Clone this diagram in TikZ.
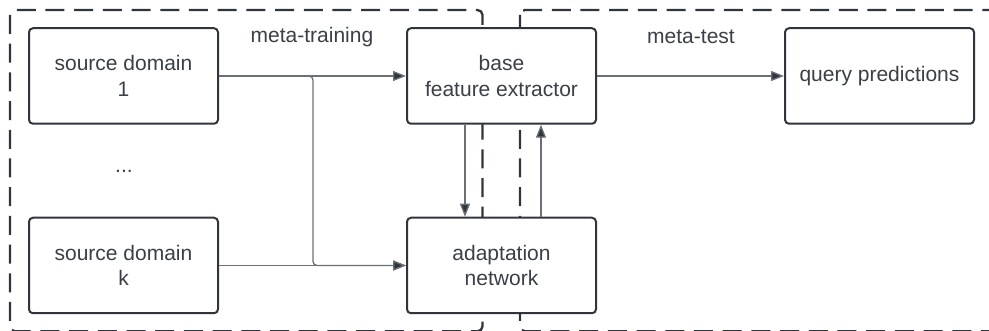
\documentclass[tikz,border=0pt]{standalone}
\usepackage{fontspec}
\setmainfont{Liberation Sans}
\usetikzlibrary{arrows.meta}
\definecolor{txt}{HTML}{3A3F48}
\definecolor{edge}{HTML}{30353D}
\definecolor{conn}{HTML}{6B7078}
\begin{document}
\begin{tikzpicture}[x=1pt,y=-1pt,
  region/.style={draw=edge,line width=2.3pt,dash pattern=on 19pt off 9.7pt,rounded corners=5pt},
  box/.style={draw=edge,line width=2pt,fill=white,rounded corners=4pt,minimum width=189pt,minimum height=95.5pt,align=center,text=txt,inner sep=0pt,font=\fontsize{21}{25.5}\selectfont},
  lbl/.style={text=txt,font=\fontsize{21}{25.5}\selectfont,inner sep=0pt},
  conn/.style={draw=conn,line width=1.3pt,-{Triangle[length=13pt,width=10pt,fill=edge]},rounded corners=4pt},
]
\useasboundingbox (0,0) rectangle (989,331);
% regions
\draw[region] (10,10) rectangle (482.5,331.3);
\draw[region] (520,10) rectangle (1005,331.3);
% boxes
\node[box] (s1) at (123.5,76) {source domain\\1};
\node[box] (sk) at (123.5,265.5) {source domain\\k};
\node[box] (base) at (501.5,76) {base\\feature extractor};
\node[box] (adapt) at (501.5,265.5) {adaptation\\network};
\node[box] (query) at (879.5,76) {query predictions};
% labels
\node[lbl] (mtr) at (312,37) {meta-training};
\node[lbl] (mte) at (691,37) {meta-test};
\node[lbl] (dots) at (124,171) {...};
% connectors
\coordinate (bend) at (300,76);
\coordinate (bendtop) at (313,76);
\draw[conn] (s1.east) -- (base.west);
\draw[conn] (bend) -- (bendtop) -- (bendtop |- adapt.west) -- (adapt.west);
\draw[conn] (sk.east) -- (adapt.west);
\draw[conn] ([xshift=-36.5pt]base.south) -- ([xshift=-36.5pt]adapt.north);
\draw[conn] ([xshift=39.5pt]adapt.north) -- ([xshift=39.5pt]base.south);
\draw[conn] (base.east) -- (query.west);
\end{tikzpicture}
\end{document}
